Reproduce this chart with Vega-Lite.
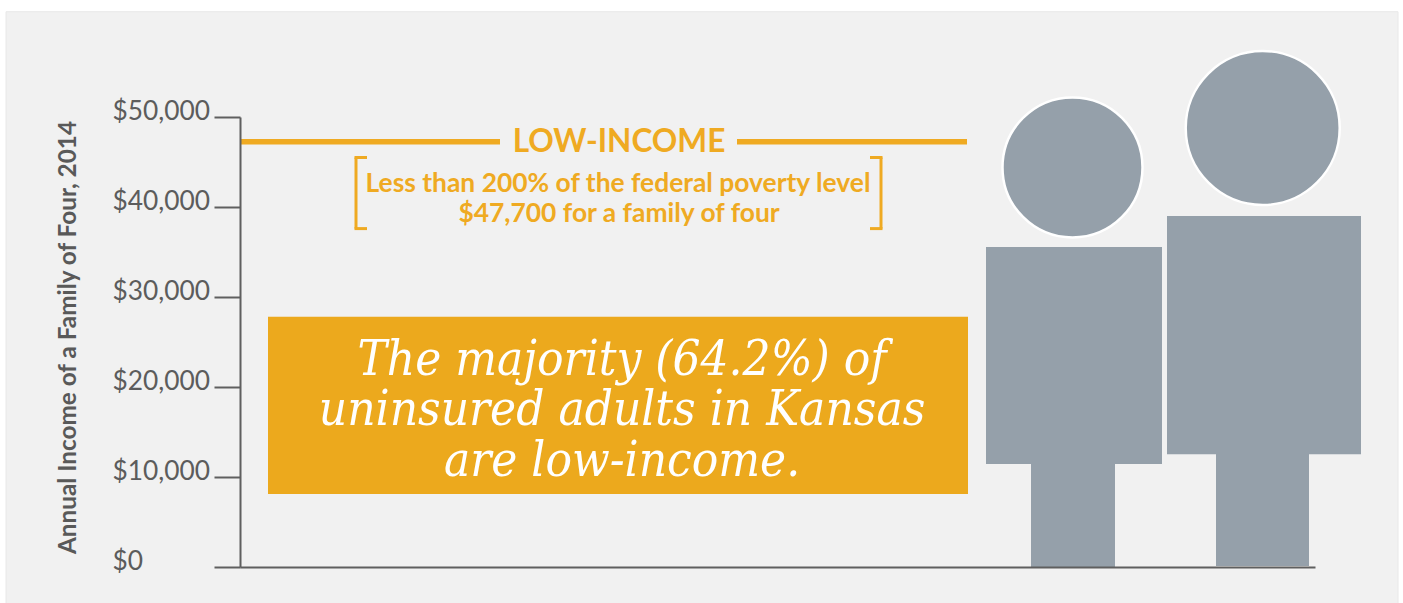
{
"$schema":"https://vega.github.io/schema/vega-lite/v6.json",
"width":1075,"height":450,
"autosize":{"type":"none"},
"padding":{"left":240,"top":117,"right":88,"bottom":36},
"background":"#ffffff",
"config":{"view":{"stroke":null}},
"datasets":{
"panel":[{"x":-234,"x2":1158,"y":61700,"y2":-4100}],
"box":[{"x":28,"x2":728,"y":27800,"y2":8100}],
"thick":[{"x":1,"x2":260,"y":47250},{"x":497,"x2":727,"y":47250}],
"bracketV":[{"x":116,"y":45500,"y2":37600},{"x":641,"y":45500,"y2":37600}],
"bracketH":[{"x":114.5,"x2":127,"y":45500},{"x":114.5,"x2":127,"y":37600},{"x":630,"x2":642.5,"y":45500},{"x":630,"x2":642.5,"y":37600}],
"heading":[{"x":379,"y":47130,"t":"LOW-INCOME"}],
"sub":[{"x":378,"y":42600,"t":"Less than 200% of the federal poverty level"},{"x":379,"y":39250,"t":"$47,700 for a family of four"}],
"quote":[{"x":382,"y":23000,"t":"The majority (64.2%) of"},{"x":382,"y":17450,"t":"uninsured adults in Kansas"},{"x":382,"y":11750,"t":"are low-income."}],
"bodies":[{"x":746,"x2":922,"y":35556,"y2":11444},{"x":791,"x2":875,"y":12000,"y2":-30},{"x":927,"x2":1121,"y":39000,"y2":12530},{"x":976,"x2":1069,"y":13000,"y2":100}],
"head1":[{"x":832.5,"y":44400}],
"head2":[{"x":1022.7,"y":48778}]
},
"encoding":{
"x":{"field":"x","type":"quantitative","scale":{"domain":[0,1075],"nice":false,"zero":false},
"axis":{"title":null,"labels":false,"ticks":false,"grid":false,"domainColor":"#5f5f5f","domainWidth":2,"zindex":1}},
"y":{"field":"y","type":"quantitative","scale":{"domain":[0,50000],"nice":false,"zero":false},
"axis":{"title":"Annual Income of a Family of Four, 2014","values":[0,10000,20000,30000,40000,50000],"format":"$,.0f","grid":false,"zindex":1,
"domainColor":"#5f5f5f","domainWidth":2,"tickColor":"#5f5f5f","tickWidth":2,"tickSize":26,"labelPadding":102,"labelAlign":"left","labelOffset":-6,
"labelFont":"Lato","labelFontSize":26.3,"labelColor":"#5c5c5c","labelFontWeight":400,
"titleFont":"Lato","titleFontSize":24.3,"titleFontWeight":700,"titleColor":"#595959","titleX":-172,"titleY":220,"titleAnchor":"middle","titleBaseline":"middle"}}
},
"layer":[
{"data":{"name":"panel"},"mark":{"type":"rect","fill":"#f1f1f1","stroke":"#e8e8e8","strokeWidth":1},"encoding":{"x2":{"field":"x2"},"y2":{"field":"y2"}}},
{"data":{"name":"box"},"mark":{"type":"rect","fill":"#eca91d"},"encoding":{"x2":{"field":"x2"},"y2":{"field":"y2"}}},
{"data":{"name":"thick"},"mark":{"type":"rule","stroke":"#efaa22","strokeWidth":5.5},"encoding":{"x2":{"field":"x2"}}},
{"data":{"name":"bracketV"},"mark":{"type":"rule","stroke":"#efaa22","strokeWidth":3},"encoding":{"y2":{"field":"y2"}}},
{"data":{"name":"bracketH"},"mark":{"type":"rule","stroke":"#efaa22","strokeWidth":3},"encoding":{"x2":{"field":"x2"}}},
{"data":{"name":"bodies"},"mark":{"type":"rect","fill":"#95a0aa"},"encoding":{"x2":{"field":"x2"},"y2":{"field":"y2"}}},
{"data":{"name":"head1"},"mark":{"type":"point","shape":"circle","filled":true,"fill":"#95a0aa","stroke":"#ffffff","strokeWidth":2.5,"opacity":1,"size":19600}},
{"data":{"name":"head2"},"mark":{"type":"point","shape":"circle","filled":true,"fill":"#95a0aa","stroke":"#ffffff","strokeWidth":2.5,"opacity":1,"size":23716}},
{"data":{"name":"heading"},"mark":{"type":"text","font":"Lato","fontSize":31.6,"fontWeight":700,"fill":"#efaa22","align":"center","baseline":"middle"},"encoding":{"text":{"field":"t"}}},
{"data":{"name":"sub"},"mark":{"type":"text","font":"Lato","fontSize":26.4,"fontWeight":700,"fill":"#efaa22","align":"center","baseline":"middle"},"encoding":{"text":{"field":"t"}}},
{"data":{"name":"quote"},"mark":{"type":"text","font":"DejaVu Serif Condensed","fontStyle":"italic","fontSize":49,"fontWeight":400,"fill":"#ffffff","align":"center","baseline":"middle"},"encoding":{"text":{"field":"t"}}}
]
}
